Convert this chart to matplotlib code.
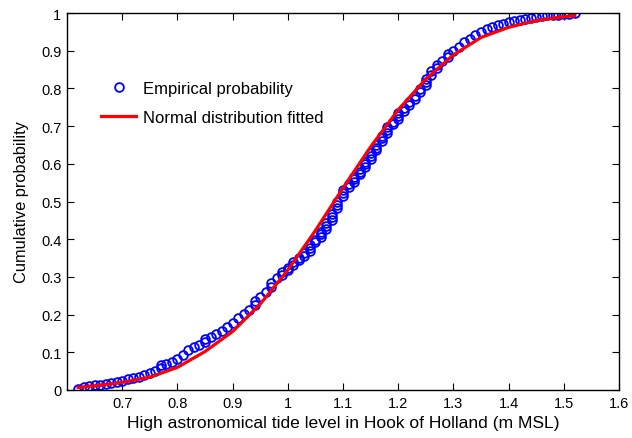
import numpy as np
import matplotlib
matplotlib.use("Agg")
import matplotlib.pyplot as plt

# empirical CDF points (tide level, cumulative prob.)
emp_x = [0.62, 0.63, 0.64, 0.65, 0.66, 0.67, 0.68, 0.69, 0.70, 0.71, 0.72, 0.73, 0.74, 0.75, 0.76, 0.77, 0.77, 0.78, 0.79, 0.80, 0.81,
         0.82, 0.83, 0.84, 0.85, 0.85, 0.86, 0.87, 0.88, 0.89, 0.90, 0.91, 0.92, 0.93, 0.94, 0.94, 0.95, 0.96, 0.97, 0.97, 0.98,
         0.99, 0.99, 1.00, 1.00, 1.01, 1.01, 1.02, 1.02, 1.03, 1.03, 1.04, 1.04, 1.04, 1.05, 1.05, 1.06, 1.06, 1.06, 1.07, 1.07,
         1.07, 1.08, 1.08, 1.08, 1.09, 1.09, 1.09, 1.10, 1.10, 1.10,
         1.11, 1.11, 1.12, 1.12, 1.12, 1.13, 1.13, 1.13, 1.14, 1.14, 1.14, 1.15, 1.15, 1.15, 1.16, 1.16, 1.16, 1.17, 1.17, 1.17,
         1.18, 1.18, 1.18, 1.19, 1.19, 1.20, 1.20, 1.20,
         1.21, 1.21, 1.22, 1.22, 1.23, 1.23, 1.24, 1.24, 1.25, 1.25, 1.25, 1.26, 1.26, 1.27, 1.27, 1.28, 1.29, 1.29, 1.30,
         1.31, 1.32, 1.33, 1.34, 1.35, 1.36, 1.37, 1.38, 1.39, 1.40, 1.41, 1.42, 1.43, 1.44, 1.45, 1.46, 1.47, 1.48, 1.49, 1.50,
         1.51, 1.52]
emp_p = [0.003, 0.008, 0.010, 0.012, 0.013, 0.016, 0.019, 0.022, 0.025, 0.028, 0.031, 0.035, 0.039, 0.044, 0.050, 0.058, 0.065, 0.070, 0.075, 0.082, 0.092,
         0.105, 0.113, 0.120, 0.127, 0.134, 0.140, 0.148, 0.157, 0.167, 0.178, 0.190, 0.201, 0.213, 0.225, 0.235, 0.247, 0.260, 0.272, 0.283, 0.296,
         0.304, 0.312, 0.318, 0.324, 0.332, 0.339, 0.345, 0.350, 0.356, 0.363, 0.370, 0.377, 0.384, 0.392, 0.399, 0.406, 0.413, 0.420, 0.428, 0.435,
         0.443, 0.452, 0.460, 0.468, 0.482, 0.490, 0.500, 0.515, 0.522, 0.530,
         0.538, 0.546, 0.553, 0.560, 0.566, 0.572, 0.579, 0.586, 0.592, 0.599, 0.606, 0.613, 0.620, 0.628, 0.636, 0.643, 0.651, 0.660, 0.668, 0.675,
         0.683, 0.690, 0.697, 0.705, 0.712, 0.720, 0.727, 0.734,
         0.741, 0.748, 0.755, 0.763, 0.772, 0.781, 0.790, 0.799, 0.808, 0.817, 0.826, 0.835, 0.845, 0.855, 0.862, 0.872, 0.882, 0.890, 0.898,
         0.910, 0.922, 0.932, 0.942, 0.950, 0.958, 0.963, 0.967, 0.971, 0.975, 0.978, 0.981, 0.985, 0.988, 0.990, 0.992, 0.994, 0.995, 0.996, 0.997,
         0.998, 1.000]

# fitted normal CDF
fit_x = [0.62, 0.65, 0.70, 0.75, 0.80, 0.85, 0.90, 0.95, 1.00, 1.05, 1.10, 1.15, 1.20, 1.25, 1.30, 1.35, 1.40, 1.45, 1.50, 1.52]
fit_p = [0.007, 0.011, 0.020, 0.034, 0.060, 0.102, 0.155, 0.228, 0.318, 0.423, 0.536, 0.645, 0.743, 0.825, 0.889, 0.935, 0.962, 0.980, 0.990, 0.993]

xticks = [0.7, 0.8, 0.9, 1.0, 1.1, 1.2, 1.3, 1.4, 1.5, 1.6]
xtick_labels = ['0.7', '0.8', '0.9', '1', '1.1', '1.2', '1.3', '1.4', '1.5', '1.6']
yticks = [0, 0.1, 0.2, 0.3, 0.4, 0.5, 0.6, 0.7, 0.8, 0.9, 1.0]
ytick_labels = ['0', '0.1', '0.2', '0.3', '0.4', '0.5', '0.6', '0.7', '0.8', '0.9', '1']

plt.rcParams['font.family'] = ['Liberation Sans', 'DejaVu Sans']

fig = plt.figure(figsize=(6.32, 4.39), dpi=100)
ax = fig.add_axes([67/632, 48/439, 552/632, 377/439])

ax.plot(emp_x, emp_p, 'o', mfc='none', mec='blue', ms=6.3, mew=1.3, label='Empirical probability')
ax.plot(fit_x, fit_p, '-', color='red', lw=2.3, label='Normal distribution fitted')

ax.set_xlim(0.6, 1.6)
ax.set_ylim(0, 1)
ax.set_xticks(xticks)
ax.set_xticklabels(xtick_labels)
ax.set_yticks(yticks)
ax.set_yticklabels(ytick_labels)
ax.tick_params(direction='in', top=True, right=True, length=5, labelsize=10.5, pad=4)
for s in ax.spines.values():
    s.set_linewidth(1.0)

ax.set_xlabel('High astronomical tide level in Hook of Holland (m MSL)', fontsize=12.6, labelpad=4)
ax.set_ylabel('Cumulative probability', fontsize=11.8, labelpad=9)

leg = ax.legend(loc='upper left', bbox_to_anchor=(101/632, 1 - 82/439), bbox_transform=fig.transFigure,
                frameon=False, handlelength=2.1, handletextpad=0.4, borderpad=0, borderaxespad=0,
                labelspacing=0.85, prop={'size': 12})

fig.savefig('out.png', dpi=100)
